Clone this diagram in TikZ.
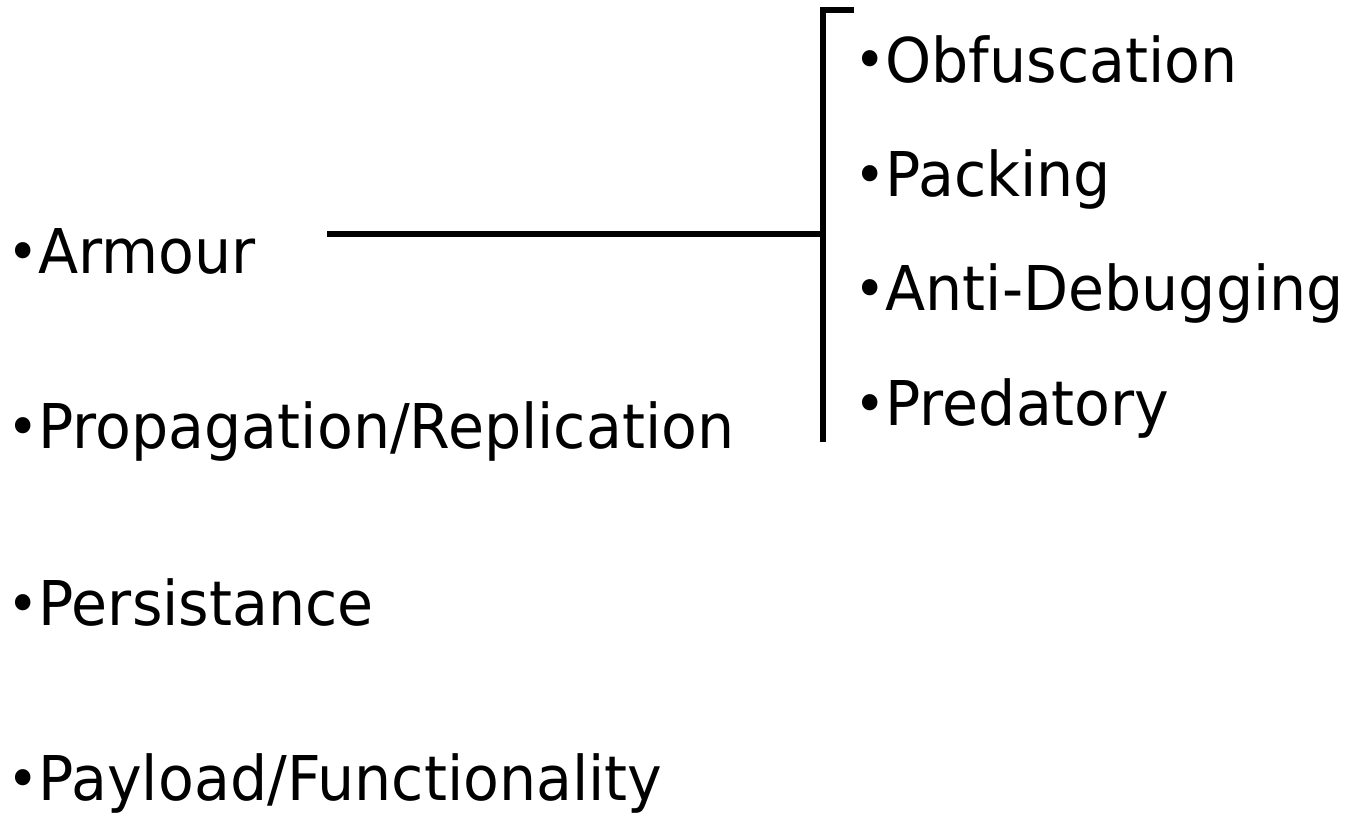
\documentclass[tikz,border=0pt]{standalone}
\usepackage{fontspec}
\setmainfont[FakeStretch=0.95]{DejaVu Sans}
\newcommand{\itembul}{\raisebox{2pt}{\fontsize{56}{56}\selectfont •}}
\tikzset{
    item/.style={anchor=base west, inner sep=0pt, font=\fontsize{61.7}{70}\selectfont},
    bar/.style={line width=5.5pt, line join=miter}
}
\begin{document}
\begin{tikzpicture}[x=1pt, y=-1pt]
        \useasboundingbox (0,0) rectangle (1346,816);

        \node[item] (armour) at (7,273) {\itembul Armour};
        \node[item] (propag) at (7,448) {\itembul Propagation/Replication};
        \node[item] (persist) at (7,625) {\itembul Persistance};
        \node[item] (payload) at (7,800) {\itembul Payload/Functionality};

        \node[item] (obfus) at (854,82) {\itembul Obfuscation};
        \node[item] (packing) at (854,196) {\itembul Packing};
        \node[item] (antidbg) at (854,310) {\itembul Anti-Debugging};
        \node[item] (predat) at (854,425) {\itembul Predatory};

        \coordinate (lineend) at (327,234);
        \coordinate (brmid) at (823,234);
        \coordinate (brtop) at (823,10);
        \coordinate (brbot) at (823,442);
        \coordinate (brtick) at (854,10);

        \draw[bar] (lineend) -- (brmid);
        \draw[bar] (brtick) -- (brtop) -- (brbot);
    \end{tikzpicture}
\end{document}
